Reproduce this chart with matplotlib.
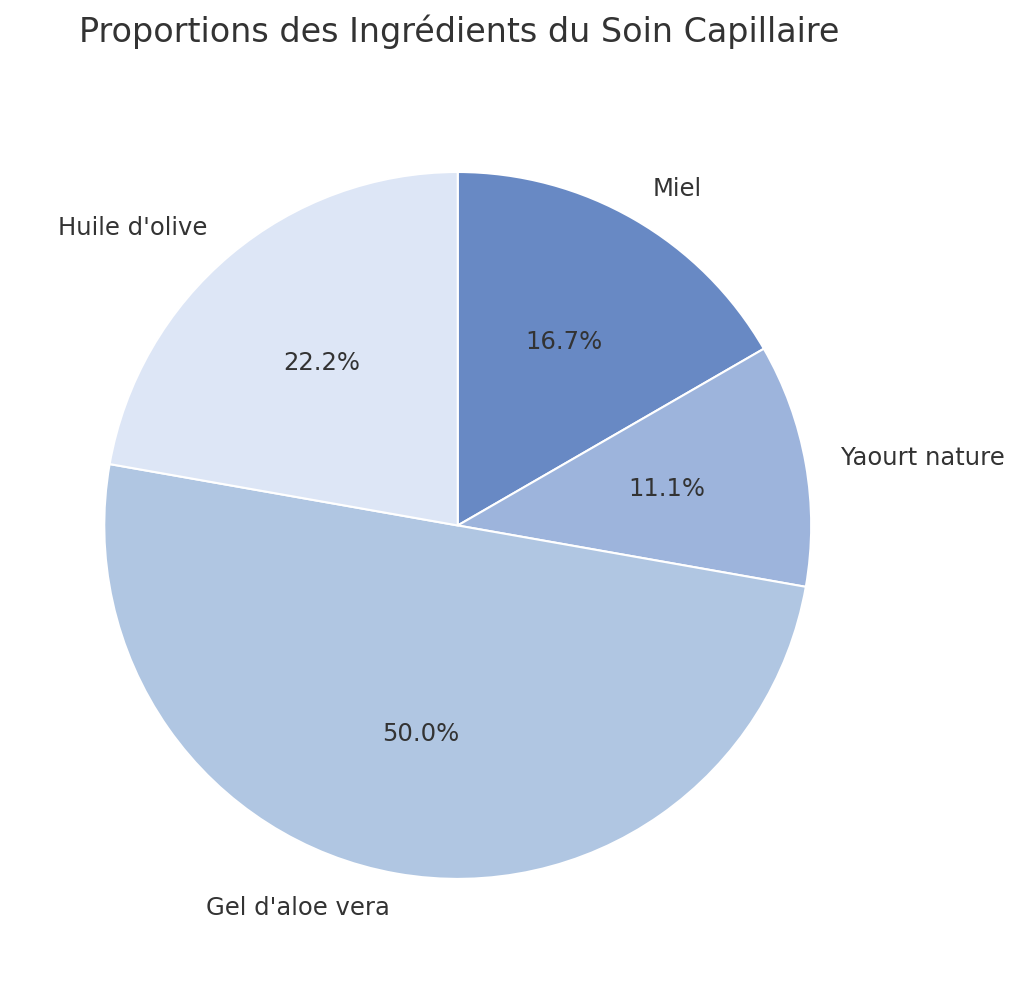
import matplotlib
matplotlib.use("Agg")
import matplotlib.pyplot as plt

labels = ["Miel", "Yaourt nature", "Gel d'aloe vera", "Huile d'olive"]
values = [3, 2, 9, 4]
colors = ["#6889c4", "#9db4dc", "#b0c6e2", "#dde6f6"]

fig = plt.figure(figsize=(10.24, 9.84), dpi=100)
ax = fig.add_axes([0.0155, 0.017, 0.863, 0.898])
wedges, texts, autotexts = ax.pie(values, labels=labels, colors=colors, autopct="%1.1f%%",
       startangle=90, counterclock=False,
       wedgeprops=dict(edgecolor="white", linewidth=1.5),
       textprops=dict(color="#333333", fontsize=17.5))
ax.set_aspect("equal")
fig.text(0.077, 0.968, "Proportions des Ingrédients du Soin Capillaire", fontsize=24,
         color="#333333", ha="left", va="center")
fig.savefig("out.png", dpi=100, facecolor="white")
